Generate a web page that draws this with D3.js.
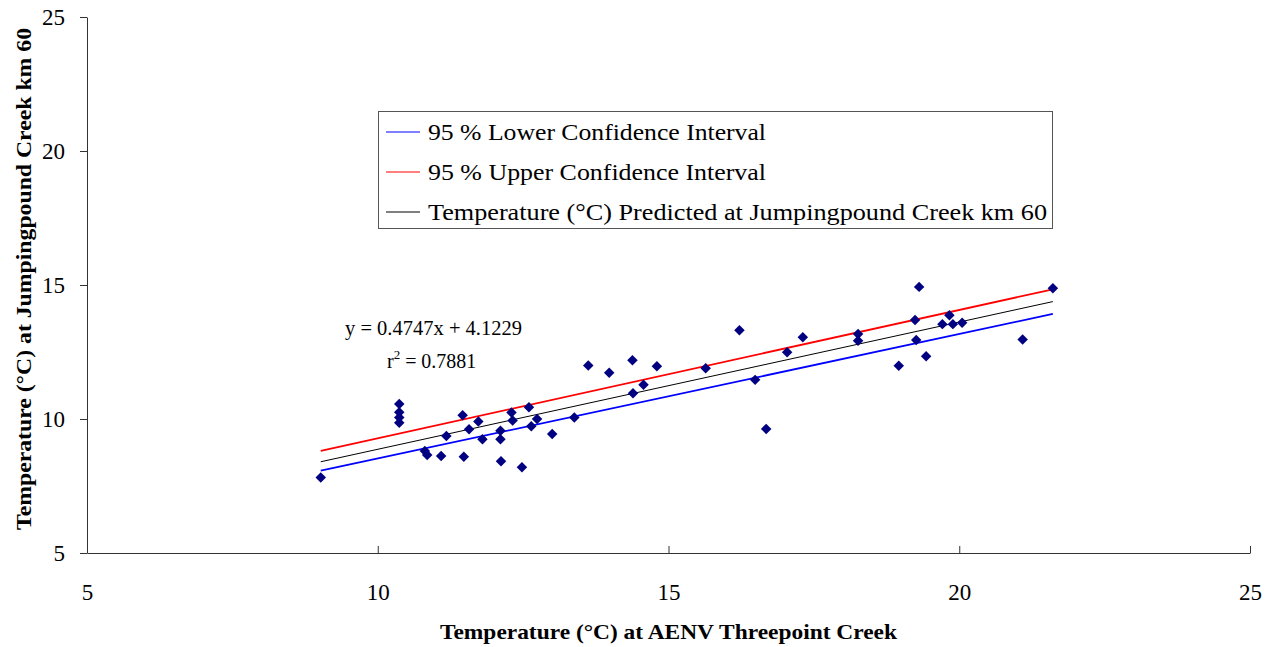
<!DOCTYPE html>
<html>
<head>
<meta charset="utf-8">
<script src="https://cdn.jsdelivr.net/npm/d3@7/dist/d3.min.js"></script>
<style>
  html, body { margin: 0; padding: 0; background: #fff; }
  svg { display: block; }
  text { font-family: "Liberation Serif", "DejaVu Serif", serif; fill: #000; }
</style>
</head>
<body>
<svg id="chart" width="1276" height="647"></svg>
<script>
// Observed daily temperatures: AENV Threepoint Creek (x) vs Jumpingpound Creek km 60 (y)
const obsX = [9.02, 10.37, 10.37, 10.37, 10.37, 10.81, 10.85, 11.09, 11.18, 11.46,
              11.48, 11.57, 11.73, 11.80, 12.11, 12.11, 12.12, 12.30, 12.32, 12.48,
              12.60, 12.64, 12.74, 13.00, 13.38, 13.62, 13.98, 14.38, 14.39, 14.57,
              14.80, 15.64, 16.22, 16.49, 16.68, 17.04, 17.31, 18.26, 18.26, 18.96,
              19.24, 19.26, 19.31, 19.43, 19.71, 19.83, 19.89, 20.05, 21.09, 21.61];
const obsY = [7.82, 10.56, 10.25, 10.06, 9.86, 8.81, 8.66, 8.62, 9.37, 10.14,
              8.59, 9.62, 9.91, 9.24, 9.56, 9.24, 8.42, 10.24, 9.94, 8.20,
              10.44, 9.73, 10.00, 9.44, 10.06, 12.00, 11.73, 12.19, 10.96, 11.28,
              11.97, 11.89, 13.31, 11.46, 9.63, 12.49, 13.05, 13.17, 12.92, 11.99,
              13.69, 12.95, 14.93, 12.34, 13.54, 13.87, 13.54, 13.59, 12.97, 14.88];

// Regression fit and 95 % confidence bounds
const slope = 0.4747;
const intercept = 4.1229;
const rSquared = "0.7881";
const lineX = [9.02, 21.61];
const lowerCI = [8.07, 13.92];
const upperCI = [8.81, 14.84];

const xTicks = [5, 10, 15, 20, 25];
const yTicks = [5, 10, 15, 20, 25];

const legendLabels = [
  "95 % Lower Confidence Interval",
  "95 % Upper Confidence Interval",
  "Temperature (°C) Predicted at Jumpingpound Creek km 60"
];
const legendColors = ["#0000FF", "#FF0000", "#000000"];

const xTitle = "Temperature (°C) at AENV Threepoint Creek";
const yTitle = "Temperature (°C) at Jumpingpound Creek km 60";

const svg = d3.select("#chart");

const x = d3.scaleLinear().domain([5, 25]).range([87, 1250]);
const y = d3.scaleLinear().domain([5, 25]).range([553, 17]);

// Axes
const xAxis = svg.append("g")
  .attr("transform", `translate(0,${y(5)})`)
  .call(d3.axisBottom(x).tickValues(xTicks).tickSize(7).tickSizeOuter(0).tickPadding(24));
const yAxis = svg.append("g")
  .attr("transform", `translate(${x(5)},0)`)
  .call(d3.axisLeft(y).tickValues(yTicks).tickSize(7).tickSizeOuter(0).tickPadding(15));

[xAxis, yAxis].forEach(g => {
  g.select(".domain").attr("stroke", "#333").attr("stroke-width", 1);
  g.selectAll(".tick line").attr("stroke", "#333").attr("stroke-width", 1);
  g.selectAll(".tick text")
    .style("font-family", '"Liberation Serif", serif')
    .style("font-size", "23px")
    .attr("fill", "#000");
});
xAxis.selectAll(".tick line").attr("y2", -7);
yAxis.selectAll(".tick line").attr("x2", -7);

// Axis titles
svg.append("text")
  .attr("x", (x(5) + x(25)) / 2)
  .attr("y", 639)
  .attr("text-anchor", "middle")
  .attr("textLength", 457)
  .attr("lengthAdjust", "spacingAndGlyphs")
  .style("font-size", "22px")
  .style("font-weight", "bold")
  .text(xTitle);

svg.append("text")
  .attr("transform", `translate(31,279) rotate(-90)`)
  .attr("text-anchor", "middle")
  .attr("textLength", 502)
  .attr("lengthAdjust", "spacingAndGlyphs")
  .style("font-size", "22px")
  .style("font-weight", "bold")
  .text(yTitle);

// Confidence interval lines and predicted line
const line = d3.line().x(d => x(d[0])).y(d => y(d[1]));
svg.append("path")
  .datum(lineX.map((v, i) => [v, lowerCI[i]]))
  .attr("d", line).attr("fill", "none")
  .attr("stroke", "#0000FF").attr("stroke-width", 1.8);
svg.append("path")
  .datum(lineX.map((v, i) => [v, upperCI[i]]))
  .attr("d", line).attr("fill", "none")
  .attr("stroke", "#FF0000").attr("stroke-width", 1.8);
svg.append("path")
  .datum(lineX.map(v => [v, slope * v + intercept]))
  .attr("d", line).attr("fill", "none")
  .attr("stroke", "#000000").attr("stroke-width", 1);

// Observations as diamonds
const diamond = d3.symbol().type(d3.symbolSquare).size(55);
svg.append("g").selectAll("path")
  .data(obsX.map((v, i) => [v, obsY[i]]))
  .join("path")
  .attr("d", diamond)
  .attr("transform", d => `translate(${x(d[0])},${y(d[1])}) rotate(45)`)
  .attr("fill", "#000080");

// Regression equation
svg.append("text")
  .attr("x", 345).attr("y", 335)
  .attr("textLength", 177)
  .attr("lengthAdjust", "spacingAndGlyphs")
  .style("font-size", "20px")
  .text(`y = ${slope}x + ${intercept}`);
const rText = svg.append("text")
  .attr("x", 387).attr("y", 368)
  .style("font-size", "20px");
rText.append("tspan").text("r");
rText.append("tspan").attr("dy", -9).style("font-size", "13px").text("2");
rText.append("tspan").attr("dy", 9).attr("textLength", 76)
  .attr("lengthAdjust", "spacingAndGlyphs").text(` = ${rSquared}`);

// Legend
const legendWidths = [338, 338, 619];
const legend = svg.append("g");
legend.append("rect")
  .attr("x", 378.5).attr("y", 111.5)
  .attr("width", 674).attr("height", 117)
  .attr("fill", "#fff").attr("stroke", "#555").attr("stroke-width", 1);
legendLabels.forEach((label, i) => {
  const cy = 132 + i * 40;
  legend.append("line")
    .attr("x1", 386).attr("x2", 420)
    .attr("y1", cy).attr("y2", cy)
    .attr("stroke", legendColors[i]).attr("stroke-width", 1);
  legend.append("text")
    .attr("x", 428).attr("y", cy + 8)
    .attr("textLength", legendWidths[i])
    .attr("lengthAdjust", "spacingAndGlyphs")
    .style("font-size", "24px")
    .text(label);
});
</script>
</body>
</html>
